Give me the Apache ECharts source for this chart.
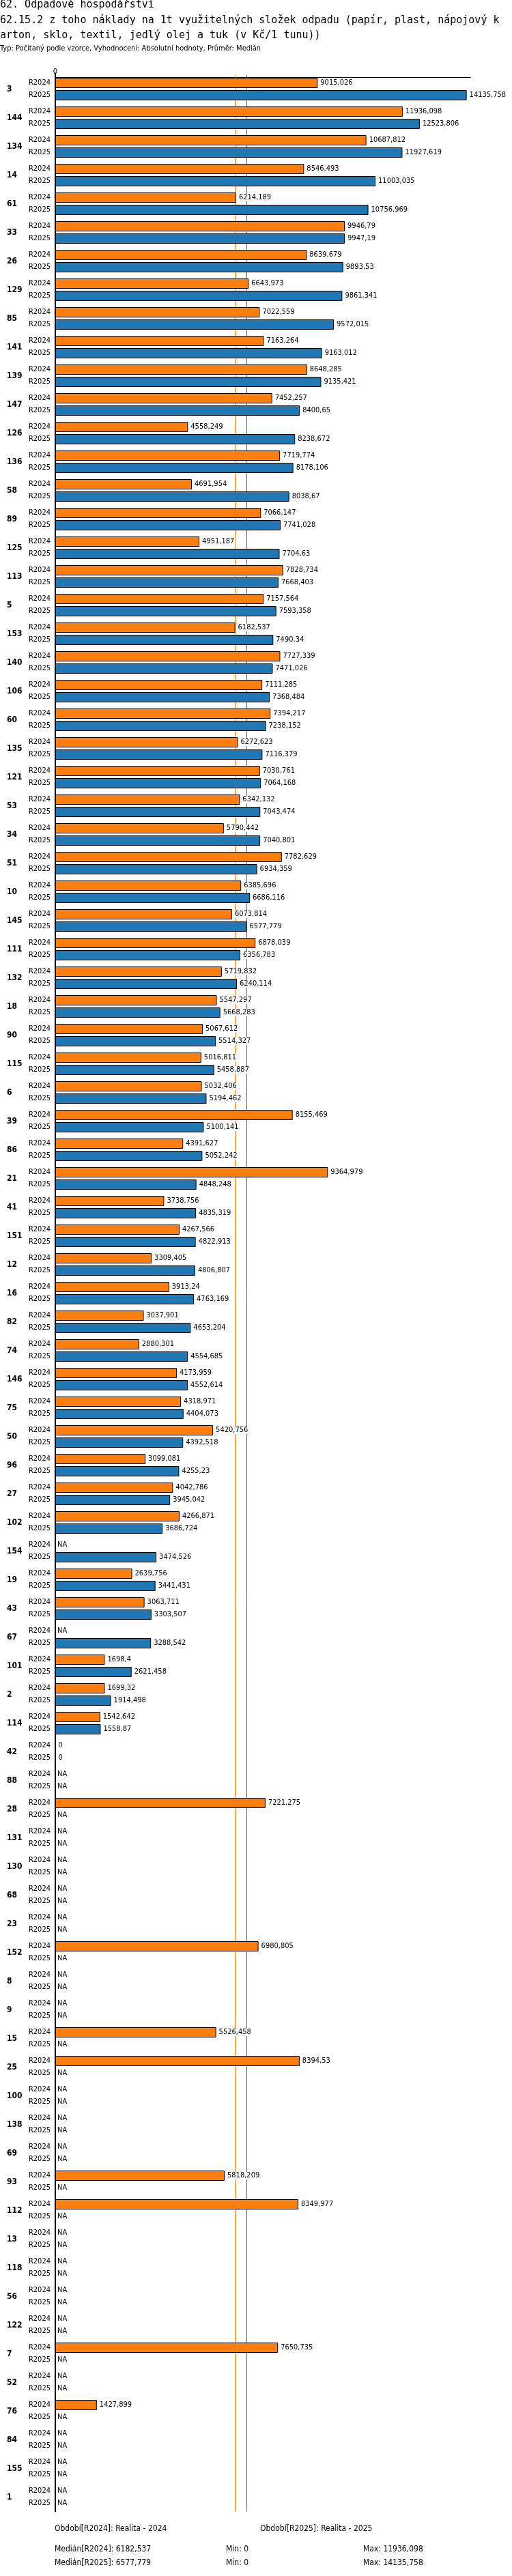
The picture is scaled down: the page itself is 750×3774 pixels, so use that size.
<!DOCTYPE html>
<html><head><meta charset="utf-8">
<script src="https://cdn.jsdelivr.net/npm/echarts@6/dist/echarts.min.js"></script>
<style>html,body{margin:0;padding:0;background:#fff}#c{width:750px;height:3774px}</style>
</head><body><div id="c"></div>
<script>
const categories = ["3","144","134","14","61","33","26","129","85","141","139","147","126","136","58","89","125","113","5","153","140","106","60","135","121","53","34","51","10","145","111","132","18","90","115","6","39","86","21","41","151","12","16","82","74","146","75","50","96","27","102","154","19","43","67","101","2","114","42","88","28","131","130","68","23","152","8","9","15","25","100","138","69","93","112","13","118","56","122","7","52","76","84","155","1"];
const r2024 = [9015.026,11936.098,10687.812,8546.493,6214.189,9946.79,8639.679,6643.973,7022.559,7163.264,8648.285,7452.257,4558.249,7719.774,4691.954,7066.147,4951.187,7828.734,7157.564,6182.537,7727.339,7111.285,7394.217,6272.623,7030.761,6342.132,5790.442,7782.629,6385.696,6073.814,6878.039,5719.832,5547.297,5067.612,5016.811,5032.406,8155.469,4391.627,9364.979,3738.756,4267.566,3309.405,3913.24,3037.901,2880.301,4173.959,4318.971,5420.756,3099.081,4042.786,4266.871,null,2639.756,3063.711,null,1698.4,1699.32,1542.642,0,null,7221.275,null,null,null,null,6980.805,null,null,5526.458,8394.53,null,null,null,5818.209,8349.977,null,null,null,null,7650.735,null,1427.899,null,null,null];
const r2025 = [14135.758,12523.806,11927.619,11003.035,10756.969,9947.19,9893.53,9861.341,9572.015,9163.012,9135.421,8400.65,8238.672,8178.106,8038.67,7741.028,7704.63,7668.403,7593.358,7490.34,7471.026,7368.484,7238.152,7116.379,7064.168,7043.474,7040.801,6934.359,6686.116,6577.779,6356.783,6240.114,5668.283,5514.327,5458.887,5194.462,5100.141,5052.242,4848.248,4835.319,4822.913,4806.807,4763.169,4653.204,4554.685,4552.614,4404.073,4392.518,4255.23,3945.042,3686.724,3474.526,3441.431,3303.507,3288.542,2621.458,1914.498,1558.87,0,null,null,null,null,null,null,null,null,null,null,null,null,null,null,null,null,null,null,null,null,null,null,null,null,null,null];
const median2024 = 6182.537, median2025 = 6577.779;
const periodLabels = ["R2024","R2025"];

const FONT = "DejaVu Sans Condensed";
const fmt = v => String(v).replace('.', ',');
const chart = echarts.init(document.getElementById('c'), null, {renderer:'canvas'});
const barLabel = {show:true, position:'right', distance:3, fontFamily:FONT, fontSize:11, color:'#000',
  backgroundColor:'#fff', padding:[0,1], formatter:p => fmt(p.value)};
const txt = (x,y,s,o={}) => ({type:'text', left:x, top:y, style:Object.assign({text:s, fontFamily:FONT, fontSize:11, fill:'#000'}, o)});
chart.setOption({
  animation:false,
  grid:{left:81, right:61, top:109.5, height:categories.length*42, containLabel:false},
  xAxis:{type:'value', position:'top', min:0, max:14262, offset:-4,
    axisLine:{show:true, lineStyle:{color:'#000', width:1}},
    axisTick:{show:true, length:7, lineStyle:{color:'#000', width:2}, customValues:[0]},
    axisLabel:{show:true, customValues:[0], margin:3, fontFamily:FONT, fontSize:11, color:'#000'},
    splitLine:{show:false}},
  yAxis:{type:'category', data:categories, inverse:true,
    axisLine:{show:true, lineStyle:{color:'#000', width:2}}, axisTick:{show:false},
    axisLabel:{align:'left', margin:71, fontFamily:FONT, fontWeight:'bold', fontSize:12, color:'#000'}},
  series:[
    {name:'R2024', type:'bar', data:r2024, barWidth:15, barGap:'20%', barCategoryGap:'21.4%',
     itemStyle:{color:'#ff7f0e', borderColor:'#000', borderWidth:1}, label:barLabel, z:3,
     markLine:{silent:true, symbol:'none', label:{show:false}, z:1,
       data:[{xAxis:median2024, lineStyle:{color:'#ff7f0e', width:1, type:'solid'}},
             {xAxis:median2025, lineStyle:{color:'#1f77b4', width:1, type:'solid'}}]}},
    {name:'R2025', type:'bar', data:r2025, barWidth:15,
     itemStyle:{color:'#1f77b4', borderColor:'#000', borderWidth:1}, label:barLabel, z:3},
    {type:'custom', z:4, clip:false, encode:{x:0, y:1},
     data:categories.map((c,i)=>[0,i]),
     renderItem:(params, api) => {
       const i = api.value(1);
       const p = api.coord([0, i]);
       const kids = [];
       [[-9, r2024[i], periodLabels[0]], [9, r2025[i], periodLabels[1]]].forEach(([dy, v, lab]) => {
         kids.push({type:'text', x:p[0]-7, y:p[1]+dy, style:{text:lab, fontFamily:FONT, fontSize:11, fill:'#000', align:'right', verticalAlign:'middle'}});
         if (v === null) kids.push({type:'text', x:p[0]+3, y:p[1]+dy, style:{text:'NA', fontFamily:FONT, fontSize:11, fill:'#000', align:'left', verticalAlign:'middle'}});
       });
       return {type:'group', children:kids};
     }}
  ],
  graphic:[
    {type:'text', left:0, top:0, style:{text:'62. Odpadové hospodářství', fontFamily:'DejaVu Sans Mono', fontSize:15, fill:'#000'}},
    {type:'text', left:0, top:23, style:{text:'62.15.2 z toho náklady na 1t využitelných složek odpadu (papír, plast, nápojový k', fontFamily:'DejaVu Sans Mono', fontSize:15, fill:'#000'}},
    {type:'text', left:0, top:45, style:{text:'arton, sklo, textil, jedlý olej a tuk (v Kč/1 tunu))', fontFamily:'DejaVu Sans Mono', fontSize:15, fill:'#000'}},
    txt(0, 66, 'Typ: Počítaný podle vzorce, Vyhodnocení: Absolutní hodnoty, Průměr: Medián'),
    txt(80, 3699, 'Období[R2024]: Realita - 2024', {fontSize:12}),
    txt(381, 3699, 'Období[R2025]: Realita - 2025', {fontSize:12}),
    txt(80, 3729, 'Medián[R2024]: ' + fmt(median2024), {fontSize:12}),
    txt(331, 3729, 'Min: 0', {fontSize:12}),
    txt(532, 3729, 'Max: 11936,098', {fontSize:12}),
    txt(80, 3749, 'Medián[R2025]: ' + fmt(median2025), {fontSize:12}),
    txt(331, 3749, 'Min: 0', {fontSize:12}),
    txt(532, 3749, 'Max: 14135,758', {fontSize:12})
  ]
});
</script></body></html>
